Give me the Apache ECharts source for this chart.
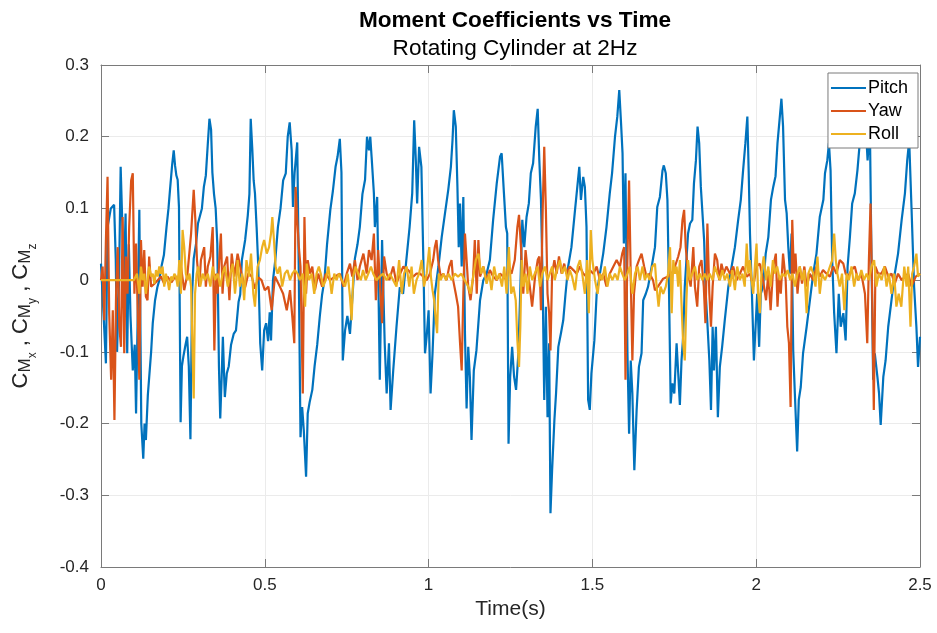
<!DOCTYPE html>
<html>
<head>
<meta charset="utf-8">
<script src="https://cdn.jsdelivr.net/npm/echarts@6/dist/echarts.min.js"></script>
<style>html,body{margin:0;padding:0;background:#fff;}#c{width:937px;height:633px;}</style>
</head>
<body>
<div id="c"></div>
<script>
// Time axis ticks and value axis ticks
const xTicks = [0, 0.5, 1, 1.5, 2, 2.5];
const yTicks = [-0.4, -0.3, -0.2, -0.1, 0, 0.1, 0.2, 0.3];
const seriesNames = ['Pitch', 'Yaw', 'Roll'];

// [time (s), C_M]
const pitch = [
[0.000,0.023],[0.008,-0.05],[0.015,-0.116],[0.020,0.074],[0.030,0.10],[0.040,0.105],[0.045,0.03],[0.049,-0.10],[0.055,0.0],[0.060,0.158],
[0.065,0.16],[0.070,0.0],[0.075,0.093],[0.080,-0.102],[0.085,0.05],[0.090,-0.05],[0.097,-0.126],[0.103,-0.09],[0.107,-0.186],[0.112,-0.05],
[0.117,0.098],[0.123,-0.2],[0.129,-0.249],[0.133,-0.2],[0.137,-0.223],[0.143,-0.16],[0.148,-0.13],[0.153,-0.1],[0.158,-0.06],[0.165,-0.028],
[0.172,-0.01],[0.178,0.0],[0.185,0.02],[0.192,0.035],[0.200,0.074],[0.206,0.10],[0.211,0.128],[0.217,0.16],[0.222,0.181],[0.226,0.16],
[0.230,0.146],[0.234,0.14],[0.238,0.102],[0.243,-0.198],[0.247,-0.12],[0.252,-0.105],[0.258,-0.09],[0.263,-0.079],[0.268,-0.12],[0.273,-0.222],
[0.278,-0.02],[0.283,0.03],[0.290,0.05],[0.296,0.079],[0.302,0.08],[0.308,0.1],[0.314,0.13],[0.320,0.146],[0.326,0.19],[0.331,0.225],
[0.336,0.21],[0.340,0.15],[0.345,0.12],[0.350,0.1],[0.355,0.051],[0.360,-0.12],[0.364,-0.193],[0.368,-0.14],[0.372,-0.079],[0.378,-0.163],
[0.384,-0.13],[0.390,-0.12],[0.397,-0.09],[0.405,-0.075],[0.412,-0.07],[0.420,-0.03],[0.425,-0.02],[0.430,0.028],[0.440,0.056],[0.448,0.09],
[0.453,0.12],[0.457,0.225],[0.462,0.181],[0.466,0.139],[0.470,0.121],[0.475,0.074],[0.480,0.02],[0.486,-0.088],[0.492,-0.126],[0.498,-0.07],
[0.504,-0.06],[0.510,-0.085],[0.515,-0.045],[0.519,-0.084],[0.525,0.0],[0.532,0.028],[0.540,0.074],[0.548,0.10],[0.556,0.139],[0.564,0.149],
[0.570,0.2],[0.576,0.22],[0.582,0.181],[0.586,0.102],[0.591,0.15],[0.599,0.192],[0.604,0.0],[0.609,-0.219],[0.614,-0.177],[0.619,-0.209],
[0.626,-0.274],[0.631,-0.186],[0.637,-0.17],[0.645,-0.153],[0.652,-0.12],[0.660,-0.09],[0.668,-0.05],[0.675,-0.02],[0.682,0.0],[0.690,0.05],
[0.700,0.098],[0.708,0.125],[0.716,0.158],[0.722,0.172],[0.729,0.197],[0.734,0.15],[0.738,-0.112],[0.745,-0.07],[0.752,-0.05],[0.760,-0.075],
[0.768,-0.02],[0.775,0.03],[0.783,0.05],[0.790,0.074],[0.798,0.12],[0.806,0.14],[0.812,0.2],[0.818,0.181],[0.822,0.2],[0.826,0.172],
[0.833,0.121],[0.836,0.074],[0.843,0.116],[0.851,-0.139],[0.858,0.056],[0.866,-0.088],[0.872,-0.158],[0.879,-0.088],[0.884,-0.181],[0.892,-0.126],
[0.902,-0.065],[0.912,-0.01],[0.922,-0.019],[0.932,0.028],[0.942,0.074],[0.950,0.121],[0.956,0.223],[0.961,0.167],[0.965,0.107],[0.971,0.186],
[0.978,0.158],[0.984,0.028],[0.989,-0.102],[0.994,-0.079],[1.000,-0.042],[1.006,-0.158],[1.012,-0.102],[1.019,-0.019],[1.030,0.019],[1.040,0.06],
[1.050,0.093],[1.060,0.126],[1.068,0.158],[1.073,0.195],[1.077,0.237],[1.083,0.214],[1.088,0.130],[1.092,0.046],[1.096,0.107],[1.101,0.019],
[1.106,0.116],[1.111,-0.074],[1.116,-0.179],[1.121,-0.093],[1.126,-0.135],[1.131,-0.223],[1.138,-0.126],[1.146,-0.098],[1.157,-0.028],[1.167,0.0],
[1.177,0.009],[1.187,0.028],[1.197,0.084],[1.208,0.135],[1.218,0.172],[1.223,0.177],[1.230,0.121],[1.236,0.074],[1.240,0.065],[1.244,-0.228],
[1.249,-0.135],[1.255,-0.093],[1.261,-0.135],[1.267,-0.153],[1.274,-0.102],[1.279,-0.028],[1.286,0.084],[1.292,0.046],[1.299,0.088],[1.306,0.107],
[1.312,0.149],[1.319,0.163],[1.327,0.214],[1.333,0.239],[1.338,0.167],[1.343,0.112],[1.348,0.0],[1.353,-0.167],[1.358,-0.037],[1.363,-0.191],
[1.368,-0.088],[1.372,-0.325],[1.377,-0.265],[1.384,-0.195],[1.389,-0.158],[1.396,-0.093],[1.404,-0.074],[1.411,-0.056],[1.418,-0.019],[1.426,0.019],
[1.436,0.046],[1.447,0.098],[1.455,0.135],[1.460,0.158],[1.465,0.112],[1.472,0.144],[1.477,0.130],[1.482,0.074],[1.487,-0.167],[1.492,-0.181],
[1.497,-0.130],[1.506,-0.084],[1.513,-0.019],[1.523,0.009],[1.533,0.037],[1.543,0.074],[1.553,0.121],[1.560,0.149],[1.569,0.200],[1.576,0.228],
[1.582,0.265],[1.587,0.223],[1.592,0.177],[1.596,0.051],[1.601,0.149],[1.607,-0.102],[1.612,-0.214],[1.617,-0.112],[1.622,-0.158],[1.628,-0.265],
[1.635,-0.181],[1.642,-0.121],[1.650,-0.102],[1.655,-0.028],[1.663,-0.019],[1.670,-0.009],[1.681,0.019],[1.691,0.046],[1.698,0.102],[1.706,0.116],
[1.714,0.153],[1.718,0.160],[1.724,0.149],[1.729,0.112],[1.734,-0.019],[1.739,-0.172],[1.744,-0.144],[1.750,-0.158],[1.757,-0.088],[1.762,-0.130],
[1.767,-0.174],[1.772,-0.112],[1.777,-0.079],[1.782,-0.009],[1.787,0.028],[1.792,0.065],[1.798,0.079],[1.805,0.084],[1.810,0.135],[1.816,0.167],
[1.821,0.214],[1.826,0.191],[1.831,0.130],[1.836,0.093],[1.841,0.056],[1.846,-0.019],[1.851,-0.060],[1.857,-0.112],[1.862,-0.181],[1.867,-0.065],
[1.871,-0.126],[1.877,-0.065],[1.883,-0.191],[1.889,-0.121],[1.896,-0.093],[1.904,-0.056],[1.915,-0.009],[1.925,0.019],[1.935,0.046],[1.945,0.084],
[1.953,0.112],[1.960,0.153],[1.967,0.191],[1.973,0.228],[1.977,0.153],[1.981,0.065],[1.987,-0.019],[1.993,-0.112],[1.999,-0.112],[2.003,-0.019],
[2.009,-0.093],[2.014,-0.019],[2.021,-0.009],[2.029,0.037],[2.037,0.060],[2.045,0.112],[2.052,0.130],[2.059,0.145],[2.065,0.191],[2.068,0.19],
[2.077,0.253],[2.082,0.214],[2.088,0.112],[2.093,0.093],[2.098,0.046],[2.103,0.009],[2.108,0.065],[2.113,-0.098],[2.118,-0.158],[2.125,-0.239],
[2.130,-0.167],[2.136,-0.149],[2.143,-0.102],[2.154,-0.065],[2.164,-0.028],[2.174,0.009],[2.184,0.037],[2.194,0.088],[2.205,0.112],[2.210,0.149],
[2.217,0.167],[2.222,0.191],[2.227,0.153],[2.232,0.028],[2.238,-0.046],[2.245,-0.102],[2.252,-0.019],[2.258,-0.065],[2.266,-0.046],[2.273,-0.084],
[2.279,0.019],[2.286,0.060],[2.293,0.107],[2.301,0.121],[2.309,0.153],[2.316,0.191],[2.324,0.188],[2.332,0.237],[2.340,0.167],[2.347,0.214],
[2.352,0.028],[2.357,-0.139],[2.362,-0.102],[2.370,-0.135],[2.375,-0.158],[2.380,-0.202],[2.388,-0.135],[2.395,-0.112],[2.403,-0.065],[2.413,-0.028],
[2.423,0.009],[2.433,0.037],[2.444,0.084],[2.454,0.121],[2.461,0.167],[2.467,0.195],[2.474,0.102],[2.482,-0.009],[2.489,-0.065],[2.494,-0.121],
[2.500,-0.079]
];

const yaw = [
[0.000,0.0],[0.005,0.019],[0.010,-0.056],[0.015,0.056],[0.020,0.144],[0.025,-0.046],[0.031,-0.139],[0.036,-0.042],[0.041,-0.195],[0.046,-0.019],
[0.051,0.046],[0.056,-0.065],[0.061,-0.093],[0.066,0.088],[0.071,-0.102],[0.076,0.033],[0.081,-0.019],[0.086,0.074],[0.092,0.139],[0.097,0.149],
[0.102,-0.019],[0.107,0.051],[0.112,-0.042],[0.117,-0.139],[0.122,0.056],[0.127,-0.009],[0.132,0.042],[0.137,-0.023],[0.142,-0.028],[0.147,0.033],
[0.153,-0.009],[0.163,-0.005],[0.173,0.0],[0.183,0.005],[0.193,-0.005],[0.203,0.005],[0.215,-0.003],[0.225,0.004],[0.234,0.0],[0.244,0.019],
[0.254,-0.014],[0.264,0.009],[0.275,0.065],[0.283,0.126],[0.288,0.084],[0.293,0.028],[0.300,-0.009],[0.305,0.028],[0.315,0.046],[0.320,-0.009],
[0.326,0.019],[0.334,0.033],[0.341,0.074],[0.346,-0.098],[0.351,0.009],[0.356,-0.019],[0.361,0.028],[0.366,0.065],[0.371,-0.019],[0.376,0.019],
[0.385,0.033],[0.392,-0.028],[0.399,0.037],[0.407,0.005],[0.417,0.037],[0.425,0.019],[0.429,0.009],[0.440,-0.01],[0.450,0.01],[0.460,0.005],
[0.470,-0.012],[0.480,0.004],[0.490,0.0],[0.500,-0.014],[0.511,-0.009],[0.521,-0.042],[0.531,0.005],[0.546,-0.009],[0.556,-0.019],[0.567,-0.042],
[0.577,-0.014],[0.584,-0.051],[0.590,-0.088],[0.594,0.130],[0.599,0.084],[0.604,0.046],[0.609,0.019],[0.616,-0.158],[0.621,0.088],[0.626,-0.019],
[0.631,0.028],[0.638,0.009],[0.645,0.019],[0.653,-0.014],[0.663,0.009],[0.675,-0.009],[0.686,0.009],[0.699,0.0],[0.714,0.005],[0.729,0.009],
[0.740,-0.009],[0.750,0.009],[0.760,0.023],[0.767,0.005],[0.775,0.028],[0.783,0.0],[0.790,0.019],[0.801,0.037],[0.811,0.009],[0.818,0.042],
[0.826,0.028],[0.833,0.065],[0.839,-0.028],[0.846,0.042],[0.852,-0.009],[0.858,-0.060],[0.864,0.033],[0.872,0.009],[0.880,0.0],[0.892,0.019],
[0.902,-0.005],[0.913,0.009],[0.923,0.019],[0.938,0.014],[0.953,0.005],[0.963,0.009],[0.974,0.009],[0.984,0.005],[0.994,0.0],[1.004,0.009],
[1.014,0.028],[1.019,0.046],[1.024,0.056],[1.029,0.028],[1.037,0.005],[1.045,0.009],[1.055,0.0],[1.063,0.019],[1.070,0.028],[1.075,0.0],
[1.083,-0.019],[1.090,-0.037],[1.096,-0.088],[1.101,-0.126],[1.106,-0.019],[1.111,0.065],[1.116,0.028],[1.121,-0.009],[1.128,-0.028],[1.136,0.005],
[1.141,0.056],[1.147,-0.019],[1.152,0.056],[1.157,0.005],[1.167,0.019],[1.177,0.0],[1.187,0.014],[1.197,0.005],[1.208,0.0],[1.218,0.009],
[1.228,0.005],[1.238,0.0],[1.243,0.019],[1.253,0.009],[1.263,0.028],[1.271,0.074],[1.276,0.091],[1.282,0.046],[1.289,-0.019],[1.296,0.042],
[1.302,0.014],[1.309,-0.009],[1.316,-0.037],[1.325,0.005],[1.333,0.028],[1.338,0.033],[1.343,-0.042],[1.348,0.093],[1.353,0.186],[1.358,0.098],
[1.363,-0.019],[1.368,-0.046],[1.372,-0.098],[1.377,0.009],[1.384,0.028],[1.391,0.009],[1.398,0.033],[1.406,0.009],[1.414,0.023],[1.421,0.009],
[1.431,0.019],[1.442,0.014],[1.452,0.009],[1.462,0.019],[1.472,0.009],[1.482,0.005],[1.492,0.014],[1.503,0.009],[1.513,0.019],[1.523,0.0],
[1.533,0.009],[1.543,-0.009],[1.553,0.009],[1.564,0.019],[1.574,0.028],[1.584,0.019],[1.591,0.037],[1.597,0.046],[1.601,-0.139],[1.606,0.009],
[1.612,0.139],[1.617,0.005],[1.622,-0.112],[1.627,-0.019],[1.635,0.019],[1.642,0.028],[1.650,0.037],[1.658,0.019],[1.665,0.005],[1.675,0.009],
[1.685,0.0],[1.691,-0.014],[1.700,-0.009],[1.716,0.002],[1.731,0.005],[1.742,0.009],[1.752,0.019],[1.762,0.033],[1.769,0.046],[1.775,0.084],
[1.780,0.098],[1.785,0.046],[1.792,0.009],[1.800,-0.009],[1.808,0.046],[1.813,-0.009],[1.820,-0.037],[1.826,0.019],[1.833,0.028],[1.840,-0.009],
[1.845,-0.060],[1.851,0.079],[1.857,-0.019],[1.862,-0.065],[1.867,-0.009],[1.874,0.037],[1.881,0.028],[1.887,0.0],[1.894,0.023],[1.901,0.009],
[1.909,0.019],[1.920,0.009],[1.930,0.019],[1.940,0.0],[1.950,0.009],[1.960,0.019],[1.971,0.005],[1.981,0.009],[1.991,-0.009],[2.001,0.019],
[2.011,0.023],[2.021,0.0],[2.030,-0.028],[2.037,0.009],[2.044,-0.042],[2.052,0.019],[2.060,0.037],[2.065,-0.037],[2.070,0.005],[2.075,-0.019],
[2.082,0.037],[2.090,0.0],[2.095,-0.065],[2.100,-0.088],[2.105,-0.177],[2.110,0.084],[2.115,0.009],[2.120,0.037],[2.126,-0.019],[2.133,0.019],
[2.140,-0.005],[2.147,0.019],[2.154,-0.009],[2.164,0.009],[2.174,0.0],[2.184,0.019],[2.194,0.005],[2.204,0.014],[2.215,0.009],[2.225,0.005],
[2.235,0.019],[2.245,0.009],[2.255,0.028],[2.266,0.023],[2.273,0.009],[2.281,0.005],[2.291,0.014],[2.301,0.019],[2.311,0.0],[2.321,0.009],
[2.332,-0.019],[2.339,-0.088],[2.344,0.028],[2.349,0.107],[2.354,-0.019],[2.359,-0.181],[2.364,0.019],[2.372,0.009],[2.382,0.009],[2.393,0.019],
[2.403,0.005],[2.413,0.009],[2.423,-0.005],[2.433,0.009],[2.444,0.0],[2.454,0.005],[2.464,0.009],[2.474,-0.009],[2.487,0.005],[2.500,0.009]
];

const roll = [
[0.000,0.0],[0.100,0.0],[0.105,0.0],[0.110,0.009],[0.117,-0.019],[0.122,0.019],[0.127,0.0],[0.132,0.009],[0.137,-0.019],[0.142,0.0],
[0.147,0.019],[0.153,0.005],[0.158,0.009],[0.163,-0.005],[0.168,0.014],[0.173,0.005],[0.178,0.019],[0.183,0.009],[0.188,0.019],[0.193,-0.009],
[0.198,0.009],[0.203,0.0],[0.208,-0.014],[0.214,0.005],[0.219,0.0],[0.224,0.009],[0.229,0.005],[0.234,-0.009],[0.239,0.028],[0.244,-0.019],
[0.249,0.070],[0.254,0.046],[0.259,0.009],[0.264,0.0],[0.270,0.009],[0.275,-0.009],[0.280,-0.112],[0.283,-0.165],[0.287,-0.019],[0.292,0.009],
[0.297,0.019],[0.303,-0.009],[0.310,0.009],[0.317,0.0],[0.326,0.009],[0.334,-0.009],[0.341,0.019],[0.348,0.0],[0.356,0.009],[0.364,-0.009],
[0.371,0.009],[0.378,0.019],[0.387,-0.009],[0.395,0.009],[0.402,0.023],[0.409,-0.019],[0.413,0.0],[0.417,0.028],[0.424,-0.009],[0.431,0.009],
[0.437,-0.028],[0.444,0.028],[0.452,0.005],[0.458,0.037],[0.465,-0.019],[0.470,-0.037],[0.478,0.019],[0.485,0.028],[0.492,0.046],[0.498,0.056],
[0.506,0.037],[0.513,0.046],[0.519,0.065],[0.523,0.088],[0.528,0.056],[0.533,0.019],[0.539,0.009],[0.546,0.019],[0.553,-0.009],[0.561,0.009],
[0.569,0.014],[0.577,0.0],[0.584,0.009],[0.592,0.014],[0.600,0.009],[0.607,0.0],[0.616,0.009],[0.623,-0.037],[0.628,0.023],[0.635,0.0],
[0.643,0.009],[0.651,-0.019],[0.658,0.009],[0.665,0.019],[0.671,0.009],[0.678,-0.009],[0.686,0.0],[0.694,0.019],[0.704,-0.019],[0.712,0.009],
[0.719,0.0],[0.726,0.009],[0.735,0.0],[0.745,-0.009],[0.753,0.009],[0.760,-0.023],[0.765,-0.056],[0.770,0.005],[0.777,0.019],[0.785,0.009],
[0.793,0.0],[0.800,0.014],[0.808,0.0],[0.816,0.009],[0.824,0.019],[0.831,0.009],[0.841,0.0],[0.851,0.005],[0.861,0.009],[0.872,0.0],
[0.882,0.009],[0.892,0.0],[0.902,-0.009],[0.910,0.028],[0.918,-0.019],[0.925,0.009],[0.933,0.019],[0.941,-0.009],[0.948,0.019],[0.955,-0.019],
[0.963,0.0],[0.971,0.009],[0.979,0.028],[0.986,-0.009],[0.994,0.009],[1.002,0.046],[1.007,0.005],[1.012,-0.014],[1.017,-0.028],[1.022,-0.056],
[1.026,-0.074],[1.031,0.009],[1.037,0.0],[1.045,0.009],[1.053,0.0],[1.061,0.009],[1.070,0.0],[1.080,0.009],[1.090,0.005],[1.100,0.009],
[1.110,0.0],[1.121,-0.009],[1.128,-0.019],[1.136,0.005],[1.144,0.028],[1.152,0.037],[1.160,0.009],[1.167,0.019],[1.177,-0.005],[1.185,0.009],
[1.192,-0.014],[1.200,0.019],[1.208,0.0],[1.216,0.009],[1.224,-0.009],[1.231,0.019],[1.238,-0.019],[1.245,0.046],[1.252,-0.019],[1.259,-0.009],
[1.266,-0.028],[1.271,-0.084],[1.276,-0.121],[1.280,-0.065],[1.284,0.028],[1.289,-0.009],[1.296,0.009],[1.302,-0.019],[1.309,0.019],[1.316,0.0],
[1.324,0.009],[1.333,0.019],[1.340,-0.009],[1.347,0.009],[1.355,0.019],[1.363,0.0],[1.370,0.009],[1.377,0.019],[1.385,0.0],[1.394,0.019],
[1.401,0.028],[1.408,0.009],[1.416,0.019],[1.424,0.0],[1.431,0.014],[1.438,0.005],[1.447,-0.014],[1.455,0.019],[1.462,0.028],[1.469,0.009],
[1.477,-0.019],[1.484,0.028],[1.489,-0.046],[1.495,0.070],[1.500,0.028],[1.508,0.0],[1.516,-0.019],[1.523,0.009],[1.530,0.0],[1.538,0.019],
[1.546,-0.009],[1.553,0.009],[1.561,0.0],[1.569,0.009],[1.577,0.0],[1.584,0.019],[1.591,0.009],[1.599,0.0],[1.607,0.009],[1.614,0.019],
[1.622,-0.019],[1.630,0.009],[1.638,0.019],[1.645,0.0],[1.653,0.019],[1.660,0.0],[1.667,0.009],[1.675,0.0],[1.683,0.019],[1.691,0.023],
[1.696,-0.009],[1.702,-0.037],[1.708,-0.009],[1.716,-0.019],[1.724,-0.009],[1.731,0.009],[1.737,0.046],[1.742,-0.046],[1.747,0.028],[1.752,0.009],
[1.757,0.019],[1.762,-0.009],[1.767,0.028],[1.772,-0.033],[1.777,-0.088],[1.782,-0.112],[1.787,-0.028],[1.792,0.028],[1.798,0.0],[1.805,0.009],
[1.813,0.019],[1.820,0.0],[1.828,0.009],[1.836,0.0],[1.843,0.009],[1.851,0.0],[1.858,0.009],[1.867,0.0],[1.874,0.019],[1.881,0.009],
[1.889,0.0],[1.897,0.014],[1.904,0.0],[1.912,0.009],[1.920,-0.009],[1.927,0.014],[1.935,-0.014],[1.942,0.019],[1.950,0.0],[1.958,0.009],
[1.965,-0.009],[1.971,0.051],[1.976,0.009],[1.981,0.028],[1.986,0.0],[1.991,-0.019],[1.996,0.019],[2.001,0.051],[2.006,-0.019],[2.011,-0.046],
[2.016,0.009],[2.023,0.033],[2.030,0.0],[2.037,0.019],[2.044,-0.009],[2.051,0.028],[2.057,0.009],[2.064,0.019],[2.072,0.0],[2.080,0.009],
[2.088,0.005],[2.096,0.014],[2.104,0.0],[2.111,0.009],[2.118,-0.009],[2.126,0.009],[2.133,0.019],[2.140,0.0],[2.147,0.014],[2.154,-0.046],
[2.159,0.009],[2.167,0.019],[2.174,0.009],[2.181,-0.009],[2.187,0.033],[2.194,-0.019],[2.201,0.009],[2.210,0.0],[2.218,0.009],[2.225,0.019],
[2.232,0.028],[2.238,0.065],[2.243,0.028],[2.248,0.009],[2.255,-0.009],[2.262,0.009],[2.269,-0.042],[2.276,0.009],[2.283,0.0],[2.291,0.019],
[2.299,-0.009],[2.306,0.009],[2.313,0.0],[2.321,0.014],[2.329,0.0],[2.337,0.009],[2.344,0.0],[2.352,0.019],[2.360,0.028],[2.367,-0.009],
[2.374,0.009],[2.383,0.0],[2.391,0.019],[2.398,-0.009],[2.405,0.009],[2.413,-0.019],[2.421,0.009],[2.428,-0.037],[2.435,-0.019],[2.443,-0.037],
[2.452,0.019],[2.459,-0.009],[2.464,0.019],[2.471,-0.065],[2.476,0.009],[2.482,0.019],[2.489,0.037],[2.494,0.005],[2.500,0.009]
];

const colors = ['#0072BD', '#D95319', '#EDB120'];
const FONT = 'Liberation Sans, Arial, Helvetica, sans-serif';
const TXT = '#262626';
const AX = '#7a7a7a';

const chart = echarts.init(document.getElementById('c'), null, {renderer: 'canvas'});
const baseX = {
  type: 'value', min: xTicks[0], max: xTicks[xTicks.length - 1], interval: 0.5,
  axisLine: {show: true, onZero: false, lineStyle: {color: AX, width: 1}},
  axisTick: {show: true, inside: true, length: 8, lineStyle: {color: AX}},
  splitLine: {show: false}
};
const baseY = {
  type: 'value', min: yTicks[0], max: yTicks[yTicks.length - 1], interval: 0.1,
  axisLine: {show: true, onZero: false, lineStyle: {color: AX, width: 1}},
  axisTick: {show: true, inside: true, length: 8, lineStyle: {color: AX}},
  splitLine: {show: false}
};

chart.setOption({
  animation: false,
  backgroundColor: '#fff',
  textStyle: {fontFamily: FONT},
  title: {
    text: 'Moment Coefficients vs Time',
    subtext: 'Rotating Cylinder at 2Hz',
    left: 510, textAlign: 'center', top: 4, itemGap: 5,
    textStyle: {fontSize: 22.6, fontWeight: 'bold', color: '#000', fontFamily: FONT},
    subtextStyle: {fontSize: 22.6, color: '#000', fontFamily: FONT}
  },
  legend: {
    data: seriesNames,
    orient: 'vertical', right: 19, top: 73,
    icon: 'rect',
    backgroundColor: '#fff', borderColor: AX, borderWidth: 1,
    padding: [6, 10, 5, 3], itemGap: 5, itemWidth: 35, itemHeight: 2,
    textStyle: {fontSize: 18, lineHeight: 18, color: '#000', fontFamily: FONT, padding: [0, 0, 0, -3]}
  },
  grid: {left: 101, right: 17, top: 65, bottom: 66, containLabel: false, outerBoundsMode: 'none'},
  xAxis: [
    Object.assign({}, baseX, {
      position: 'bottom',
      splitLine: {show: true, lineStyle: {color: '#ebebeb', width: 1}},
      axisLabel: {show: true, fontSize: 17, color: TXT, margin: 10, fontFamily: FONT},
      name: 'Time(s)', nameLocation: 'middle', nameGap: 30,
      nameTextStyle: {fontSize: 21, color: TXT, fontFamily: FONT}
    }),
    Object.assign({}, baseX, {position: 'top', axisLabel: {show: false}})
  ],
  yAxis: [
    Object.assign({}, baseY, {
      position: 'left',
      splitLine: {show: true, lineStyle: {color: '#ebebeb', width: 1}},
      axisLabel: {show: true, fontSize: 17, color: TXT, margin: 12, fontFamily: FONT},
      name: '{c|C}{m|M}{s|x}{c| , C}{m|M}{s|y}{c| , C}{m|M}{s|z}',
      nameLocation: 'middle', nameGap: 68,
      nameTextStyle: {
        color: TXT, fontFamily: FONT,
        rich: {
          c: {fontSize: 22, color: TXT, fontFamily: FONT, lineHeight: 24},
          m: {fontSize: 17, color: TXT, fontFamily: FONT, lineHeight: 17, padding: [8, 0, 0, 0]},
          s: {fontSize: 12, color: TXT, fontFamily: FONT, lineHeight: 12, padding: [24, 0, 0, 0]}
        }
      }
    }),
    Object.assign({}, baseY, {position: 'right', axisLabel: {show: false}})
  ],
  series: [
    {name: seriesNames[0], type: 'line', data: pitch, symbol: 'none', lineStyle: {width: 2.2, color: colors[0]}, itemStyle: {color: colors[0]}, z: 2},
    {name: seriesNames[1], type: 'line', data: yaw, symbol: 'none', lineStyle: {width: 2.2, color: colors[1]}, itemStyle: {color: colors[1]}, z: 3},
    {name: seriesNames[2], type: 'line', data: roll, symbol: 'none', lineStyle: {width: 2.2, color: colors[2]}, itemStyle: {color: colors[2]}, z: 4}
  ]
});
</script>
</body>
</html>
